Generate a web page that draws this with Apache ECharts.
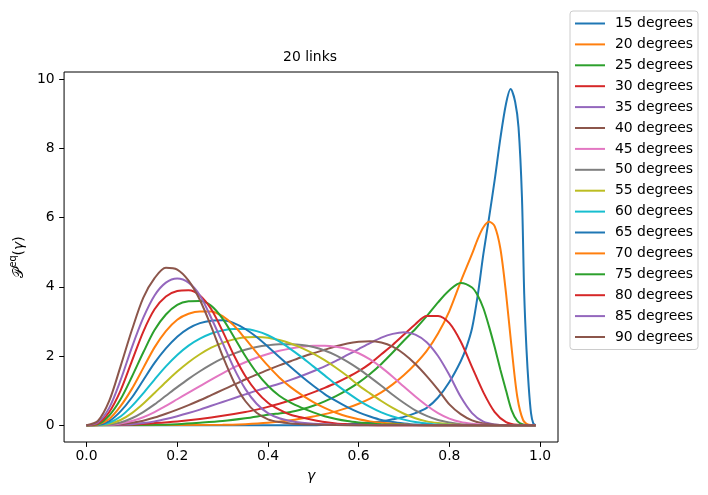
<!DOCTYPE html>
<html>
<head>
<meta charset="utf-8">
<script src="https://cdn.jsdelivr.net/npm/echarts@6/dist/echarts.min.js"></script>
<style>
  html, body { margin: 0; padding: 0; background: #fff; }
  #main { width: 708px; height: 495px; }
</style>
</head>
<body>
<div id="main"></div>
<script>
// legend names, in plotting order
var labels = ['15 degrees', '20 degrees', '25 degrees', '30 degrees', '35 degrees', '40 degrees',
  '45 degrees', '50 degrees', '55 degrees', '60 degrees', '65 degrees', '70 degrees',
  '75 degrees', '80 degrees', '85 degrees', '90 degrees'];

// [gamma, P_eq], one list per angle
var deg15 = [[0,0],[0.5,0],[0.525,0.01],[0.55,0.02],[0.575,0.03],[0.6,0.05],[0.625,0.08],[0.65,0.11],[0.675,0.17],[0.7,0.24],[0.725,0.35],[0.75,0.5],[0.775,0.8],[0.8,1.25],[0.825,1.85],[0.8375,2.25],[0.85,2.8],[0.8625,3.75],[0.875,4.95],[0.8875,6.0],[0.9,7.1],[0.9125,8.3],[0.925,9.3],[0.935,9.72],[0.945,9.35],[0.9525,8.6],[0.96,6.6],[0.965,3.8],[0.97,2.2],[0.975,1.1],[0.98,0.35],[0.985,0.05],[0.99,0]];
var deg20 = [[0,0],[0.3,0.01],[0.35,0.03],[0.4,0.07],[0.45,0.14],[0.5,0.25],[0.525,0.32],[0.55,0.4],[0.575,0.5],[0.6,0.62],[0.625,0.77],[0.65,0.95],[0.675,1.18],[0.7,1.45],[0.725,1.77],[0.75,2.15],[0.775,2.65],[0.8,3.3],[0.825,4.15],[0.85,4.95],[0.8625,5.38],[0.875,5.72],[0.8875,5.88],[0.9,5.75],[0.9125,5.1],[0.925,3.8],[0.9375,2.2],[0.95,0.8],[0.9625,0.15],[0.975,0.01],[0.99,0]];
var deg25 = [[0,0],[0.15,0.01],[0.2,0.03],[0.25,0.07],[0.3,0.12],[0.35,0.2],[0.4,0.3],[0.425,0.34],[0.45,0.38],[0.475,0.46],[0.5,0.56],[0.525,0.69],[0.55,0.84],[0.575,1.02],[0.6,1.23],[0.625,1.48],[0.65,1.77],[0.675,2.1],[0.7,2.45],[0.725,2.78],[0.75,3.15],[0.775,3.55],[0.8,3.9],[0.825,4.11],[0.85,3.98],[0.8625,3.75],[0.875,3.38],[0.8875,2.85],[0.9,2.25],[0.9125,1.6],[0.925,1.0],[0.9375,0.42],[0.95,0.12],[0.9625,0.02],[0.975,0],[0.99,0]];
var deg30 = [[0,0],[0.05,0.005],[0.1,0.02],[0.15,0.06],[0.2,0.11],[0.25,0.18],[0.3,0.27],[0.35,0.38],[0.375,0.45],[0.4,0.53],[0.425,0.62],[0.45,0.72],[0.475,0.83],[0.5,0.95],[0.525,1.08],[0.55,1.22],[0.575,1.38],[0.6,1.56],[0.625,1.78],[0.65,2.05],[0.675,2.32],[0.7,2.62],[0.725,2.92],[0.75,3.16],[0.775,3.16],[0.8,2.95],[0.825,2.42],[0.85,1.68],[0.875,0.95],[0.9,0.38],[0.925,0.09],[0.95,0.01],[0.975,0],[0.99,0]];
var deg35 = [[0,0],[0.05,0.005],[0.075,0.015],[0.1,0.03],[0.125,0.06],[0.15,0.11],[0.175,0.18],[0.2,0.26],[0.225,0.35],[0.25,0.45],[0.275,0.56],[0.3,0.67],[0.325,0.78],[0.35,0.89],[0.375,1.0],[0.4,1.1],[0.425,1.2],[0.45,1.31],[0.475,1.43],[0.5,1.56],[0.525,1.7],[0.55,1.86],[0.575,2.03],[0.6,2.2],[0.625,2.37],[0.65,2.53],[0.675,2.64],[0.7,2.69],[0.725,2.62],[0.75,2.4],[0.775,2.0],[0.8,1.45],[0.825,0.82],[0.85,0.35],[0.875,0.1],[0.9,0.02],[0.925,0],[0.99,0]];
var deg40 = [[0,0],[0.05,0.01],[0.075,0.03],[0.1,0.07],[0.125,0.13],[0.15,0.22],[0.175,0.33],[0.2,0.45],[0.225,0.58],[0.25,0.72],[0.275,0.87],[0.3,1.02],[0.325,1.17],[0.35,1.32],[0.375,1.46],[0.4,1.6],[0.425,1.73],[0.45,1.85],[0.475,1.97],[0.5,2.08],[0.525,2.18],[0.55,2.28],[0.575,2.36],[0.6,2.41],[0.625,2.43],[0.65,2.39],[0.675,2.27],[0.7,2.06],[0.725,1.77],[0.75,1.42],[0.775,1.03],[0.8,0.6],[0.825,0.32],[0.85,0.14],[0.875,0.05],[0.9,0.01],[0.925,0],[0.99,0]];
var deg45 = [[0,0],[0.05,0.01],[0.075,0.05],[0.1,0.12],[0.125,0.23],[0.15,0.38],[0.175,0.56],[0.2,0.75],[0.225,0.94],[0.25,1.13],[0.275,1.32],[0.3,1.5],[0.325,1.67],[0.35,1.82],[0.375,1.95],[0.4,2.06],[0.425,2.15],[0.45,2.22],[0.475,2.27],[0.5,2.3],[0.525,2.3],[0.55,2.27],[0.575,2.2],[0.6,2.08],[0.625,1.9],[0.65,1.67],[0.675,1.4],[0.7,1.11],[0.725,0.83],[0.75,0.57],[0.775,0.35],[0.8,0.19],[0.825,0.09],[0.85,0.04],[0.875,0.01],[0.9,0],[0.99,0]];
var deg50 = [[0,0],[0.05,0.02],[0.075,0.08],[0.1,0.2],[0.125,0.38],[0.15,0.6],[0.175,0.85],[0.2,1.1],[0.225,1.34],[0.25,1.56],[0.275,1.76],[0.3,1.93],[0.325,2.07],[0.35,2.18],[0.375,2.26],[0.4,2.31],[0.425,2.34],[0.45,2.34],[0.475,2.32],[0.5,2.26],[0.525,2.16],[0.55,2.02],[0.575,1.84],[0.6,1.63],[0.625,1.39],[0.65,1.14],[0.675,0.88],[0.7,0.64],[0.725,0.43],[0.75,0.27],[0.775,0.15],[0.8,0.08],[0.825,0.03],[0.85,0.01],[0.875,0],[0.99,0]];
var deg55 = [[0,0],[0.025,0.005],[0.05,0.04],[0.075,0.15],[0.1,0.35],[0.125,0.62],[0.15,0.93],[0.175,1.25],[0.2,1.55],[0.225,1.82],[0.25,2.05],[0.275,2.24],[0.3,2.38],[0.325,2.48],[0.35,2.54],[0.375,2.55],[0.4,2.53],[0.425,2.46],[0.45,2.36],[0.475,2.23],[0.5,2.07],[0.525,1.88],[0.55,1.66],[0.575,1.42],[0.6,1.15],[0.625,0.92],[0.65,0.7],[0.675,0.5],[0.7,0.33],[0.725,0.2],[0.75,0.11],[0.775,0.06],[0.8,0.03],[0.825,0.01],[0.85,0],[0.99,0]];
var deg60 = [[0,0],[0.025,0.01],[0.05,0.07],[0.075,0.25],[0.1,0.55],[0.125,0.92],[0.15,1.32],[0.175,1.7],[0.2,2.03],[0.225,2.3],[0.25,2.5],[0.275,2.65],[0.3,2.74],[0.325,2.78],[0.35,2.78],[0.375,2.72],[0.4,2.6],[0.425,2.42],[0.45,2.2],[0.475,1.96],[0.5,1.7],[0.525,1.44],[0.55,1.18],[0.575,0.94],[0.6,0.72],[0.625,0.53],[0.65,0.37],[0.675,0.25],[0.7,0.16],[0.725,0.09],[0.75,0.05],[0.775,0.02],[0.8,0.01],[0.85,0],[0.99,0]];
var deg65 = [[0,0],[0.025,0.01],[0.05,0.12],[0.075,0.4],[0.1,0.8],[0.125,1.3],[0.15,1.8],[0.175,2.22],[0.2,2.56],[0.225,2.8],[0.25,2.95],[0.275,3.02],[0.3,3.03],[0.325,2.95],[0.35,2.78],[0.375,2.55],[0.4,2.27],[0.425,1.97],[0.45,1.68],[0.475,1.4],[0.5,1.14],[0.525,0.9],[0.55,0.7],[0.575,0.52],[0.6,0.37],[0.625,0.25],[0.65,0.15],[0.675,0.09],[0.7,0.05],[0.725,0.02],[0.75,0.01],[0.8,0],[0.99,0]];
var deg70 = [[0,0],[0.025,0.02],[0.05,0.18],[0.075,0.55],[0.1,1.05],[0.125,1.65],[0.15,2.25],[0.175,2.72],[0.2,3.05],[0.225,3.22],[0.25,3.29],[0.275,3.29],[0.3,3.15],[0.325,2.88],[0.35,2.5],[0.375,2.1],[0.4,1.72],[0.425,1.38],[0.45,1.1],[0.475,0.87],[0.5,0.67],[0.525,0.5],[0.55,0.36],[0.575,0.25],[0.6,0.17],[0.625,0.11],[0.65,0.07],[0.7,0.02],[0.75,0],[0.99,0]];
var deg75 = [[0,0],[0.025,0.03],[0.05,0.28],[0.075,0.75],[0.1,1.4],[0.125,2.1],[0.15,2.75],[0.175,3.2],[0.2,3.48],[0.225,3.58],[0.25,3.59],[0.275,3.45],[0.3,3.08],[0.325,2.55],[0.35,2.0],[0.375,1.52],[0.4,1.14],[0.425,0.85],[0.45,0.65],[0.475,0.5],[0.5,0.37],[0.525,0.26],[0.55,0.18],[0.575,0.12],[0.6,0.08],[0.625,0.05],[0.65,0.03],[0.7,0.01],[0.75,0],[0.99,0]];
var deg80 = [[0,0],[0.025,0.05],[0.05,0.38],[0.075,1.0],[0.1,1.85],[0.125,2.7],[0.15,3.35],[0.175,3.72],[0.2,3.88],[0.225,3.9],[0.25,3.75],[0.275,3.35],[0.3,2.72],[0.325,2.02],[0.35,1.42],[0.375,0.97],[0.4,0.65],[0.425,0.45],[0.45,0.3],[0.475,0.22],[0.5,0.15],[0.525,0.09],[0.55,0.05],[0.575,0.03],[0.6,0.015],[0.65,0],[0.99,0]];
var deg85 = [[0,0],[0.025,0.08],[0.05,0.5],[0.075,1.3],[0.1,2.25],[0.125,3.1],[0.15,3.75],[0.175,4.12],[0.2,4.24],[0.225,4.12],[0.25,3.75],[0.275,3.1],[0.3,2.38],[0.325,1.65],[0.35,1.05],[0.375,0.62],[0.4,0.35],[0.425,0.2],[0.45,0.12],[0.475,0.07],[0.5,0.04],[0.55,0.01],[0.6,0],[0.99,0]];
var deg90 = [[0,0],[0.025,0.12],[0.05,0.7],[0.075,1.7],[0.1,2.75],[0.125,3.68],[0.15,4.25],[0.175,4.55],[0.2,4.5],[0.225,4.18],[0.25,3.62],[0.275,2.85],[0.3,2.0],[0.325,1.25],[0.35,0.7],[0.375,0.36],[0.4,0.17],[0.425,0.09],[0.45,0.05],[0.475,0.03],[0.5,0.02],[0.55,0.005],[0.6,0],[0.99,0]];

var curves = [deg15, deg20, deg25, deg30, deg35, deg40, deg45, deg50,
  deg55, deg60, deg65, deg70, deg75, deg80, deg85, deg90];

var xTicks = [0, 0.2, 0.4, 0.6, 0.8, 1.0];
var yTicks = [0, 2, 4, 6, 8, 10];

// matplotlib tab10 cycle
var colors = ['#1f77b4', '#ff7f0e', '#2ca02c', '#d62728', '#9467bd', '#8c564b',
  '#e377c2', '#7f7f7f', '#bcbd22', '#17becf'];

var font = 'DejaVu Sans';
var ec = echarts.init(document.getElementById('main'), null, { renderer: 'canvas' });

var series = [];
for (var i = 0; i < curves.length; i++) {
  series.push({
    name: labels[i],
    type: 'line',
    data: curves[i],
    showSymbol: false,
    symbol: 'none',
    smooth: 0.3,
    lineStyle: { width: 2, color: colors[i % 10] },
    itemStyle: { color: colors[i % 10] },
    emphasis: { disabled: true }
  });
}

ec.setOption({
  animation: false,
  backgroundColor: '#fff',
  title: {
    text: '20 links',
    left: 310,
    top: 50,
    textAlign: 'center',
    padding: 0,
    textStyle: { fontFamily: font, fontSize: 13.9, fontWeight: 'normal', color: '#000' }
  },
  grid: {
    left: 62,
    right: 150,
    top: 72,
    bottom: 53,
    show: true,
    borderColor: '#000',
    borderWidth: 1,
    backgroundColor: 'transparent'
  },
  legend: {
    orient: 'vertical',
    left: 570,
    top: 11,
    padding: [5.5, 5, 5.5, 5],
    itemGap: 6.9,
    itemWidth: 30,
    itemHeight: 2,
    icon: 'rect',
    borderColor: '#cccccc',
    borderWidth: 1,
    borderRadius: 3,
    backgroundColor: '#fff',
    selectedMode: false,
    textStyle: { fontFamily: font, fontSize: 13.9, lineHeight: 14, color: '#000', padding: [0, 0, 0, 5] },
    data: labels
  },
  xAxis: {
    type: 'value',
    min: -0.0495,
    max: 1.0395,
    name: 'γ',
    nameLocation: 'middle',
    nameGap: 27,
    nameTextStyle: { fontFamily: font, fontSize: 14, fontStyle: 'italic', color: '#000' },
    axisLine: { show: false, onZero: false },
    axisTick: { show: true, customValues: xTicks, length: 4.9, lineStyle: { color: '#000', width: 1 } },
    axisLabel: {
      customValues: xTicks,
      margin: 7,
      fontFamily: font,
      fontSize: 13.9,
      color: '#000',
      formatter: function (v) { return v.toFixed(1); }
    },
    splitLine: { show: false }
  },
  yAxis: {
    type: 'value',
    min: -0.486,
    max: 10.21,
    name: '{p|𝒫}{s|eq}{n|(}{g|γ}{n|)}',
    nameLocation: 'middle',
    nameGap: 38,
    nameTextStyle: {
      fontFamily: font,
      color: '#000',
      rich: {
        p: { fontFamily: font, fontSize: 13.9, lineHeight: 18, verticalAlign: 'bottom' },
        s: { fontFamily: font, fontSize: 9.7, fontStyle: 'normal', lineHeight: 18, verticalAlign: 'top' },
        n: { fontFamily: font, fontSize: 13.9, lineHeight: 18, verticalAlign: 'bottom' },
        g: { fontFamily: font, fontSize: 13.9, fontStyle: 'italic', lineHeight: 18, verticalAlign: 'bottom' }
      }
    },
    axisLine: { show: false, onZero: false },
    axisTick: { show: true, customValues: yTicks, length: 4.9, lineStyle: { color: '#000', width: 1 } },
    axisLabel: {
      customValues: yTicks,
      margin: 9.5,
      fontFamily: font,
      fontSize: 13.9,
      color: '#000'
    },
    splitLine: { show: false }
  },
  series: series
});
</script>
</body>
</html>
